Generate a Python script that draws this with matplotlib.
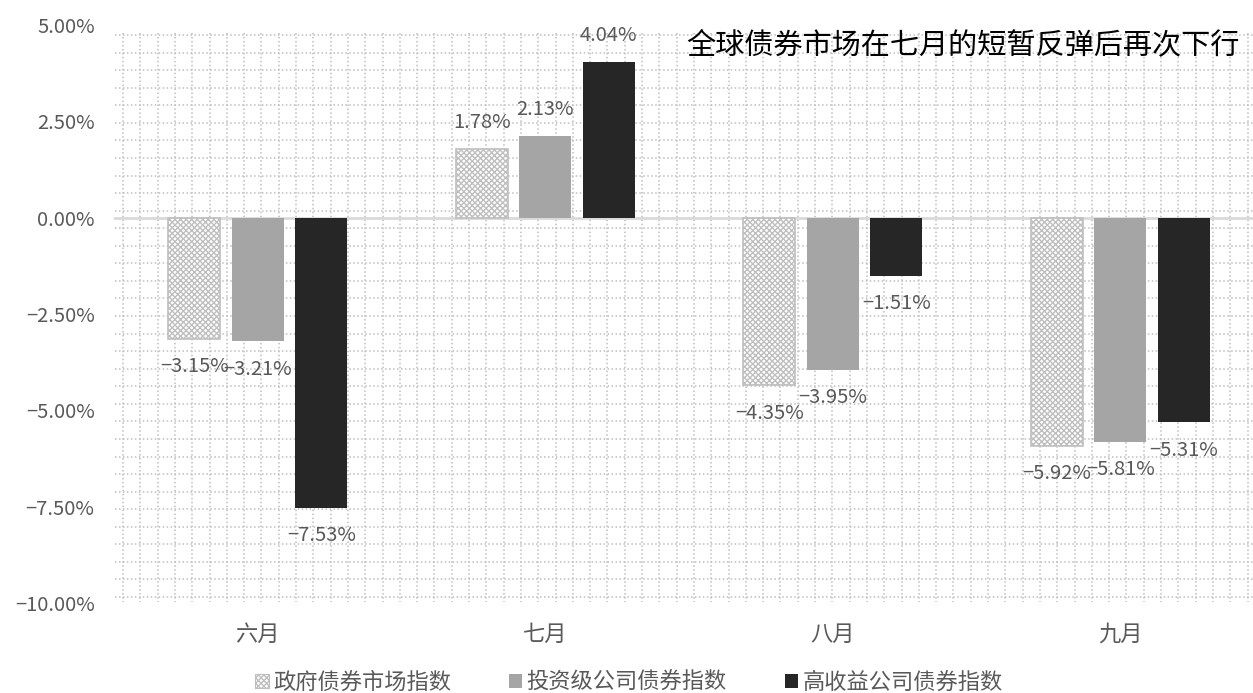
import numpy as np
import matplotlib
matplotlib.use('Agg')
import matplotlib.pyplot as plt
from matplotlib.patches import Patch

plt.rcParams['font.family'] = ['Noto Sans CJK SC', 'DejaVu Sans']

# dados
meses = ['六月', '七月', '八月', '九月']
series = ['政府债券市场指数', '投资级公司债券指数', '高收益公司债券指数']
governo = [-3.15, 1.78, -4.35, -5.92]
grau_inv = [-3.21, 2.13, -3.95, -5.81]
high_yield = [-7.53, 4.04, -1.51, -5.31]
yticks = [5.0, 2.5, 0.0, -2.5, -5.0, -7.5, -10.0]
titulo = '全球债券市场在七月的短暂反弹后再次下行'

cores = ['white', '#a5a5a5', '#262626']
bordas = ['#bfbfbf', '#a5a5a5', '#262626']
hatches = ['xxxxxx', None, None]
cinza = '#595959'

W, H = 1253, 693
fig = plt.figure(figsize=(W / 100, H / 100), dpi=100)
# area do grafico em pixels: x 114..1264, y 25..603
ax = fig.add_axes([114 / W, 1 - 603 / H, 1150 / W, 578 / H])

def px_x(p):
    return (p - 114) / 1150

def px_y(p):
    return (603 - p) / 578

# fundo com padrao de grade pontilhada (decorativo)
estilo = dict(color='#bfbfbf', lw=1.1, ls=(0, (1, 1.6)), transform=ax.transAxes,
              clip_on=False, zorder=0)
for py in np.linspace(35, 597, 33):
    ax.plot([px_x(115), px_x(1253)], [px_y(py), px_y(py)], **estilo)
for px in np.arange(123, 1253, 17.3):
    ax.plot([px_x(px), px_x(px)], [px_y(33), px_y(602)], **estilo)

ax.axhline(0, color='#d9d9d9', lw=2, zorder=1)

x = np.arange(len(meses))
largura = 0.181
passo = 0.221
for i, valores in enumerate([governo, grau_inv, high_yield]):
    pos = x + (i - 1) * passo
    barras = ax.bar(pos, valores, largura, color=cores[i], edgecolor=bordas[i],
                    hatch=hatches[i], linewidth=1.2 if i == 0 else 0, zorder=2)
    for xb, v in zip(pos, valores):
        txt = f'{v:.2f}%'.replace('-', '\u2212')
        off = 19 if v > 0 else -20
        ax.annotate(txt, (xb, v), xytext=(0, off), textcoords='offset points',
                    ha='center', va='center', fontsize=14.5, color=cinza, zorder=3)

ax.set_xlim(-0.5, 3.5)
ax.set_ylim(-10, 5)
ax.set_yticks(yticks)
ax.set_yticklabels([f'{v:.2f}%'.replace('-', '\u2212') for v in yticks])
ax.set_xticks(x)
ax.set_xticklabels(meses)
ax.tick_params(axis='y', length=0, pad=14, labelsize=14.5, labelcolor=cinza)
ax.tick_params(axis='x', length=0, pad=14, labelsize=16, labelcolor=cinza)
for s in ax.spines.values():
    s.set_visible(False)
ax.patch.set_alpha(0)

fig.text(1240 / W, 1 - 45 / H, titulo, ha='right', va='center', fontsize=21, color='black')

handles = [Patch(facecolor=cores[i], edgecolor=bordas[i], hatch=hatches[i],
                 linewidth=0.8 if i == 0 else 0) for i in range(3)]
fig.legend(handles, series, loc='center', bbox_to_anchor=(0.502, 1 - 682 / H), ncol=3,
           frameon=False, handlelength=0.6, handleheight=0.6, handletextpad=0.2,
           columnspacing=2.6, prop={'size': 16}, labelcolor=cinza)

fig.savefig('out.png', dpi=100)
